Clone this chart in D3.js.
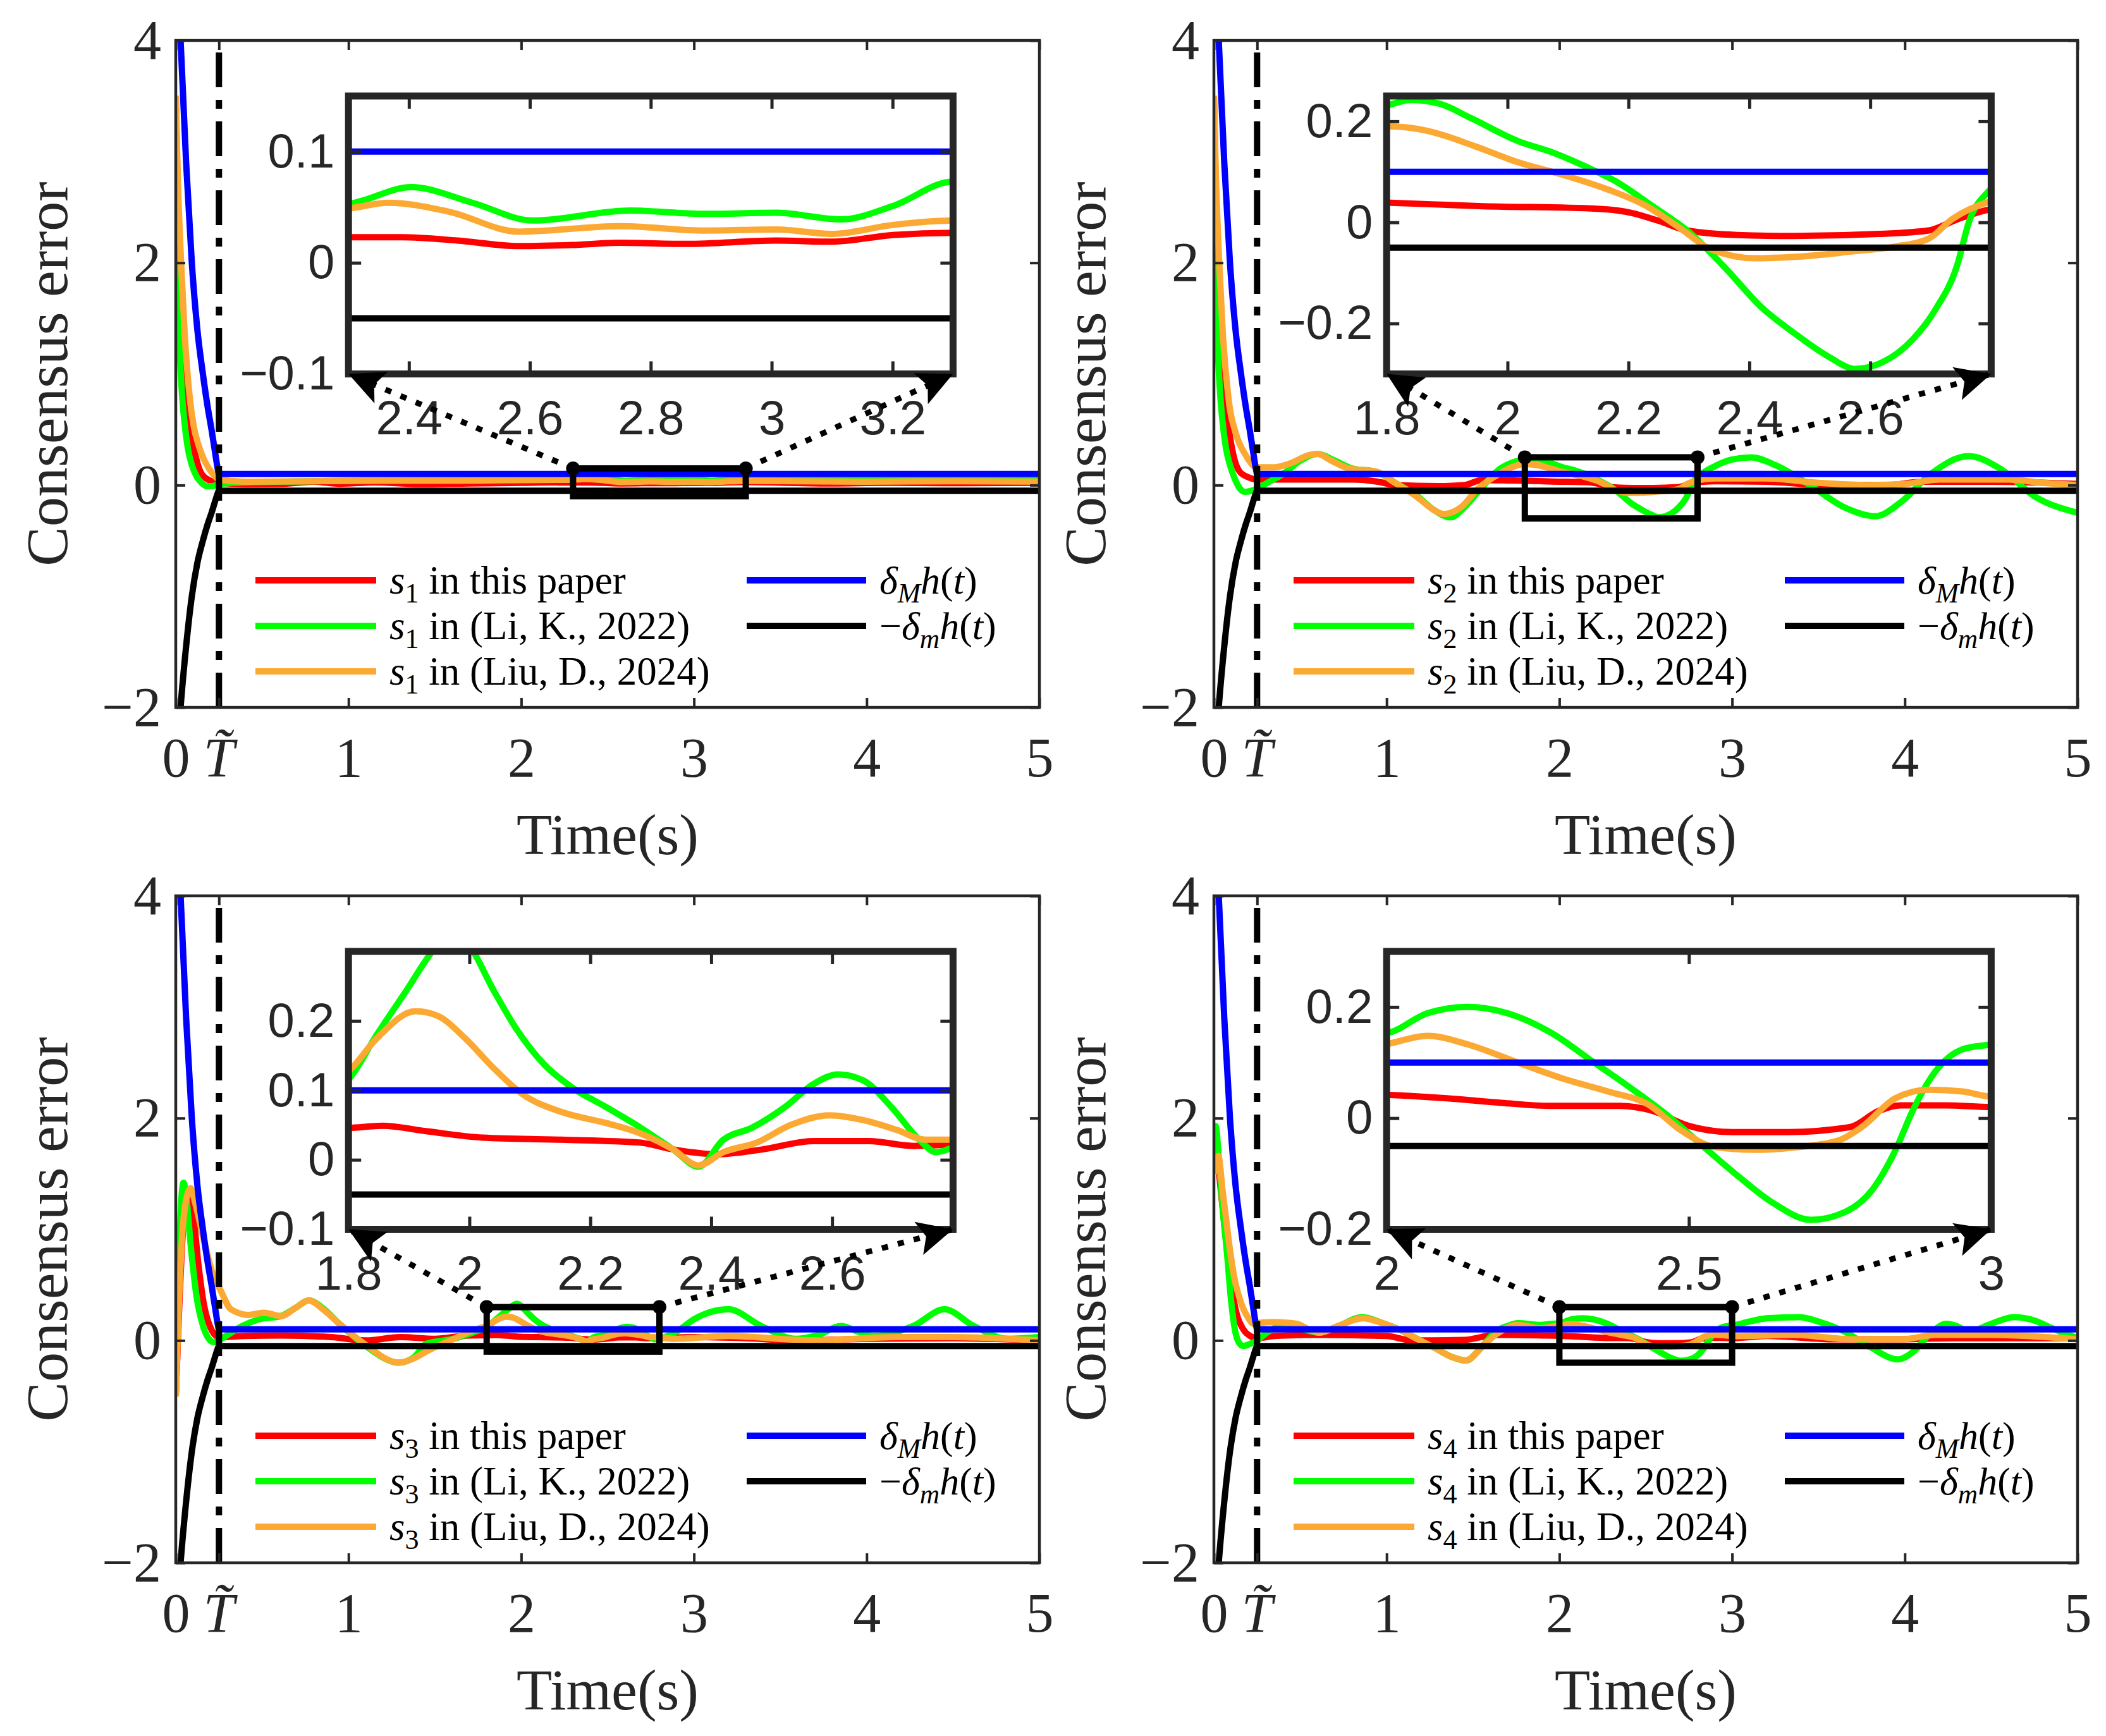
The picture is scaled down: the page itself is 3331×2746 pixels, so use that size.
<!DOCTYPE html>
<html lang="en">
<head>
<meta charset="UTF-8">
<title>Consensus error</title>
<script src="https://cdnjs.cloudflare.com/ajax/libs/d3/7.8.5/d3.min.js"></script>
<style>
  body { margin: 0; background: #fff; }
  svg { display: block; }
</style>
</head>
<body>
<svg id="chart" width="3331" height="2746"></svg>
<script>
// ---- data: [time, value] ----
const hUpper = [[0,5.3],[0.028,4.0],[0.06,2.9],[0.093,2.0],[0.125,1.4],[0.157,1.0],[0.185,0.7],[0.207,0.5],[0.23,0.27],[0.245,0.13],[0.25,0.1],[5,0.1]];
const hLower = [[0,-2.65],[0.028,-2.0],[0.06,-1.45],[0.093,-1.0],[0.125,-0.7],[0.157,-0.5],[0.185,-0.35],[0.207,-0.25],[0.23,-0.135],[0.245,-0.065],[0.25,-0.05],[5,-0.05]];

const s1Red = [[0,3.5],[0.015,2.3],[0.03,1.6],[0.05,1.05],[0.065,0.8],[0.085,0.52],[0.1,0.37],[0.125,0.2],[0.15,0.1],[0.2,0.04],[0.25,0.02],
  [0.4,0.01],[0.6,0.012],[0.8,0.03],[0.95,0.012],[1.15,0.025],[1.4,0.01],[1.7,0.015],[2.0,0.02],[2.2,0.024],
  [2.3,0.023],[2.389,0.023],[2.48,0.02],[2.582,0.015],[2.67,0.016],[2.75,0.018],[2.86,0.017],[3.007,0.02],[3.1,0.019],[3.2,0.025],[3.3,0.027],
  [3.5,0.022],[3.8,0.015],[4.1,0.02],[4.5,0.018],[5,0.02]];
const s1Green = [[0,3.5],[0.006,2.6],[0.012,1.9],[0.02,1.35],[0.035,0.85],[0.05,0.57],[0.07,0.33],[0.093,0.18],[0.12,0.08],[0.15,0.02],[0.18,-0.01],[0.21,-0.01],[0.25,0.01],
  [0.4,0.025],[0.8,0.035],[1.2,0.04],[1.6,0.045],[2.0,0.05],[2.2,0.05],
  [2.3,0.053],[2.404,0.068],[2.505,0.054],[2.605,0.038],[2.767,0.047],[2.89,0.044],[3.007,0.045],[3.115,0.039],[3.2,0.051],[3.3,0.073],
  [3.45,0.07],[3.7,0.055],[4.0,0.05],[4.5,0.055],[5,0.05]];
const s1Orange = [[0,3.5],[0.012,2.75],[0.031,2.0],[0.052,1.35],[0.083,0.76],[0.105,0.52],[0.13,0.37],[0.155,0.26],[0.18,0.18],[0.21,0.11],[0.25,0.05],
  [0.4,0.03],[0.8,0.035],[1.2,0.04],[1.6,0.04],[2.0,0.045],[2.2,0.047],
  [2.3,0.049],[2.366,0.054],[2.466,0.046],[2.582,0.028],[2.75,0.033],[2.89,0.029],[3.007,0.03],[3.1,0.026],[3.2,0.034],[3.3,0.038],
  [3.6,0.035],[4.0,0.03],[4.5,0.035],[5,0.03]];

const s2Red = [[0,3.5],[0.015,2.3],[0.03,1.6],[0.05,1.05],[0.065,0.8],[0.085,0.52],[0.1,0.37],[0.125,0.2],[0.15,0.12],[0.2,0.07],[0.25,0.05],
  [0.5,0.05],[0.8,0.05],[0.95,0.03],[1.05,0.0],[1.3,-0.01],[1.45,0.0],[1.55,0.045],[1.7,0.042],
  [1.8,0.039],[1.96,0.032],[2.148,0.027],[2.204,0.019],[2.25,0.003],[2.297,-0.016],[2.38,-0.025],[2.474,-0.027],[2.614,-0.023],[2.697,-0.016],[2.744,0.006],[2.8,0.026],
  [2.9,0.035],[3.2,0.03],[3.5,0.005],[3.9,0.0],[4.1,0.03],[4.5,0.03],[5,0.01]];
const s2Green = [[0,3.5],[0.006,2.6],[0.012,1.9],[0.02,1.35],[0.035,0.85],[0.05,0.57],[0.07,0.33],[0.093,0.18],[0.12,0.06],[0.15,-0.03],[0.18,-0.06],[0.22,-0.05],[0.25,-0.03],
  [0.32,0.03],[0.4,0.1],[0.5,0.22],[0.6,0.28],[0.7,0.22],[0.8,0.15],[0.94,0.12],[1.05,0.02],[1.17,-0.09],[1.27,-0.22],[1.37,-0.29],[1.45,-0.2],[1.53,-0.06],[1.66,0.15],[1.74,0.21],
  [1.8,0.231],[1.84,0.242],[1.887,0.235],[1.94,0.206],[2.017,0.161],[2.073,0.139],[2.13,0.11],[2.185,0.077],[2.24,0.032],[2.3,-0.019],[2.36,-0.09],[2.42,-0.168],[2.474,-0.219],[2.53,-0.265],[2.576,-0.29],[2.62,-0.277],[2.67,-0.232],[2.707,-0.174],[2.744,-0.084],[2.763,0.0],[2.8,0.068],
  [2.9,0.17],[3.0,0.23],[3.11,0.25],[3.25,0.18],[3.45,0.0],[3.65,-0.2],[3.83,-0.28],[3.98,-0.15],[4.15,0.1],[4.37,0.26],[4.55,0.15],[4.75,-0.1],[5,-0.25]];
const s2Orange = [[0,3.5],[0.012,2.75],[0.031,2.0],[0.052,1.35],[0.083,0.8],[0.13,0.45],[0.18,0.28],[0.25,0.16],[0.35,0.16],[0.45,0.2],[0.55,0.27],[0.6,0.28],[0.68,0.22],[0.78,0.15],[0.94,0.12],[1.05,0.02],[1.17,-0.1],[1.27,-0.22],[1.33,-0.26],[1.43,-0.2],[1.53,-0.03],[1.65,0.1],[1.74,0.17],
  [1.8,0.19],[1.868,0.181],[1.943,0.152],[2.017,0.119],[2.092,0.094],[2.166,0.065],[2.23,0.032],[2.287,-0.013],[2.334,-0.052],[2.41,-0.071],[2.48,-0.068],[2.567,-0.058],[2.641,-0.048],[2.697,-0.032],[2.735,0.006],[2.8,0.042],
  [2.9,0.06],[3.2,0.06],[3.5,0.02],[3.8,0.0],[4.0,0.01],[4.2,0.05],[4.6,0.05],[4.8,0.02],[5,0.0]];

const s3Red = [[0,-0.5],[0.02,0.3],[0.04,0.95],[0.06,1.25],[0.08,1.3],[0.1,1.15],[0.13,0.7],[0.16,0.35],[0.2,0.12],[0.25,0.03],
  [0.4,0.04],[0.61,0.045],[0.9,0.03],[1.1,0.0],[1.3,0.03],[1.5,0.015],[1.7,0.045],
  [1.8,0.046],[1.856,0.049],[1.93,0.041],[2.022,0.032],[2.152,0.029],[2.28,0.025],[2.337,0.015],[2.41,0.008],[2.485,0.015],[2.569,0.027],[2.661,0.027],[2.735,0.02],[2.8,0.022],
  [3.0,0.03],[3.3,0.02],[3.6,0.0],[4.0,0.015],[4.5,0.02],[5,0.0]];
const s3Green = [[0,-0.5],[0.015,0.5],[0.03,1.2],[0.045,1.42],[0.06,1.3],[0.09,0.8],[0.12,0.4],[0.16,0.12],[0.2,0.0],[0.22,-0.015],[0.25,0.0],
  [0.29,0.04],[0.385,0.13],[0.48,0.19],[0.61,0.22],[0.7,0.3],[0.77,0.36],[0.86,0.28],[0.94,0.16],[1.1,-0.05],[1.29,-0.2],[1.38,-0.15],[1.45,-0.03],[1.61,0.015],[1.7,0.06],[1.77,0.1],
  [1.8,0.116],[1.846,0.179],[1.893,0.24],[1.948,0.31],[1.975,0.33],[1.999,0.31],[2.04,0.244],[2.078,0.188],[2.124,0.137],[2.17,0.104],[2.226,0.076],[2.28,0.048],[2.337,0.015],[2.379,-0.01],[2.42,0.029],[2.467,0.046],[2.522,0.076],[2.569,0.109],[2.61,0.123],[2.652,0.114],[2.698,0.076],[2.744,0.029],[2.772,0.011],[2.8,0.018],
  [2.9,0.08],[3.0,0.19],[3.2,0.28],[3.39,0.13],[3.59,0.015],[3.72,0.05],[3.85,0.13],[3.95,0.08],[4.04,0.04],[4.27,0.13],[4.45,0.28],[4.62,0.13],[4.82,0.015],[5,0.03]];
const s3Orange = [[0,-0.5],[0.02,0.4],[0.04,1.0],[0.065,1.3],[0.087,1.37],[0.11,1.25],[0.16,0.92],[0.21,0.62],[0.26,0.45],[0.32,0.28],[0.42,0.23],[0.51,0.25],[0.61,0.22],[0.7,0.3],[0.77,0.36],[0.86,0.27],[0.94,0.16],[1.1,-0.04],[1.29,-0.2],[1.38,-0.16],[1.45,-0.1],[1.61,0.015],[1.72,0.09],[1.77,0.115],
  [1.8,0.128],[1.846,0.174],[1.911,0.214],[1.948,0.207],[1.994,0.174],[2.04,0.132],[2.087,0.095],[2.152,0.069],[2.226,0.053],[2.28,0.039],[2.337,0.015],[2.379,-0.008],[2.42,0.011],[2.476,0.025],[2.531,0.05],[2.596,0.064],[2.652,0.057],[2.707,0.043],[2.754,0.029],[2.8,0.029],
  [2.88,0.015],[3.2,0.04],[3.69,0.0],[4.17,0.03],[4.5,0.03],[5,0.0]];

const s4Red = [[0,1.55],[0.02,1.6],[0.04,1.35],[0.06,1.05],[0.08,0.75],[0.1,0.5],[0.13,0.25],[0.17,0.1],[0.21,0.04],[0.25,0.02],
  [0.35,0.04],[0.6,0.05],[1.0,0.04],[1.15,0.0],[1.45,0.005],[1.63,0.05],[1.9,0.045],
  [2.0,0.042],[2.096,0.036],[2.19,0.0275],[2.273,0.022],[2.385,0.022],[2.44,0.013],[2.497,-0.013],[2.571,-0.025],[2.664,-0.025],[2.767,-0.016],[2.814,0.013],[2.85,0.023],[2.925,0.023],[3.0,0.02],
  [3.2,0.04],[3.6,0.01],[3.9,0.01],[4.3,0.02],[4.6,0.02],[5,0.02]];
const s4Green = [[0,1.9],[0.01,1.93],[0.03,1.6],[0.05,1.2],[0.075,0.8],[0.1,0.35],[0.12,0.11],[0.145,-0.02],[0.17,-0.05],[0.21,-0.03],[0.25,0.0],
  [0.29,0.05],[0.36,0.12],[0.42,0.15],[0.5,0.11],[0.61,0.07],[0.72,0.13],[0.86,0.21],[0.97,0.16],[1.07,0.1],[1.17,0.02],[1.27,-0.06],[1.38,-0.15],[1.46,-0.18],[1.55,-0.06],[1.63,0.08],[1.7,0.13],[1.76,0.155],[1.89,0.14],[1.96,0.15],
  [2.0,0.153],[2.068,0.189],[2.133,0.2],[2.199,0.189],[2.273,0.153],[2.338,0.104],[2.404,0.054],[2.469,0.001],[2.525,-0.052],[2.581,-0.104],[2.637,-0.151],[2.702,-0.183],[2.758,-0.169],[2.804,-0.128],[2.842,-0.057],[2.87,0.013],[2.907,0.083],[2.953,0.124],[3.0,0.133],
  [3.1,0.17],[3.2,0.2],[3.39,0.21],[3.52,0.16],[3.65,0.08],[3.8,-0.06],[3.96,-0.17],[4.05,-0.1],[4.14,0.05],[4.24,0.15],[4.3,0.13],[4.37,0.08],[4.5,0.15],[4.63,0.21],[4.75,0.18],[4.83,0.125],[5,0.02]];
const s4Orange = [[0,1.5],[0.026,1.66],[0.05,1.35],[0.07,1.1],[0.09,0.85],[0.12,0.55],[0.157,0.34],[0.2,0.2],[0.23,0.15],[0.27,0.16],[0.35,0.165],[0.42,0.16],[0.48,0.15],[0.55,0.1],[0.61,0.07],[0.72,0.13],[0.86,0.2],[0.97,0.16],[1.07,0.1],[1.17,0.02],[1.27,-0.06],[1.38,-0.15],[1.46,-0.18],[1.55,-0.06],[1.63,0.05],[1.76,0.14],[1.89,0.11],[1.96,0.125],
  [2.0,0.133],[2.068,0.148],[2.133,0.133],[2.217,0.1],[2.292,0.071],[2.366,0.048],[2.432,0.025],[2.487,-0.022],[2.543,-0.052],[2.609,-0.057],[2.683,-0.052],[2.748,-0.04],[2.786,-0.016],[2.842,0.036],[2.897,0.051],[2.953,0.048],[3.0,0.039],
  [3.07,0.04],[3.36,0.05],[3.69,0.01],[3.98,0.01],[4.18,0.05],[4.5,0.05],[5,0.01]];

// zoomed windows and their ticks
const zoom1X = [2.3, 3.3], zoom1Y = [-0.1, 0.15];
const zoom2X = [1.8, 2.8], zoom2Y = [-0.3, 0.25];
const zoom3X = [1.8, 2.8], zoom3Y = [-0.1, 0.3];
const zoom4X = [2.0, 3.0], zoom4Y = [-0.2, 0.3];
const zoom1XTicks = [2.4, 2.6, 2.8, 3, 3.2], zoom1YTicks = [-0.1, 0, 0.1];
const zoom2XTicks = [1.8, 2, 2.2, 2.4, 2.6], zoom2YTicks = [-0.2, 0, 0.2];
const zoom3XTicks = [1.8, 2, 2.2, 2.4, 2.6], zoom3YTicks = [-0.1, 0, 0.1, 0.2];
const zoom4XTicks = [2, 2.5, 3], zoom4YTicks = [-0.2, 0, 0.2];

const mainXTicks = [0, 0.25, 1, 2, 3, 4, 5];
const mainYTicks = [-2, 0, 2, 4];
const tTilde = 0.25;
const seriesLabels = ["in this paper", "in (Li, K., 2022)", "in (Liu, D., 2024)"];

// ---- layout ----
const W = 3331, H = 2746;
const panelW = 1366, panelH = 1055;
const insetSpanX = [1, 4.5], insetSpanY = [1, 3.5]; // inset box in main-axis units
const colors = { red: "#ff0000", green: "#00ff00", orange: "#fca934", blue: "#0000ff", black: "#000000" };
const axisColor = "#262626";
const serif = "'Liberation Serif', 'Times New Roman', serif";
const sans = "'Liberation Sans', Arial, sans-serif";
const lineW = 10;

const panels = [
  { n: 1, left: 278,  top: 64,   red: s1Red, green: s1Green, orange: s1Orange, zx: zoom1X, zy: zoom1Y, zxt: zoom1XTicks, zyt: zoom1YTicks },
  { n: 2, left: 1920, top: 64,   red: s2Red, green: s2Green, orange: s2Orange, zx: zoom2X, zy: zoom2Y, zxt: zoom2XTicks, zyt: zoom2YTicks },
  { n: 3, left: 278,  top: 1417, red: s3Red, green: s3Green, orange: s3Orange, zx: zoom3X, zy: zoom3Y, zxt: zoom3XTicks, zyt: zoom3YTicks },
  { n: 4, left: 1920, top: 1417, red: s4Red, green: s4Green, orange: s4Orange, zx: zoom4X, zy: zoom4Y, zxt: zoom4XTicks, zyt: zoom4YTicks }
];

const svg = d3.select("#chart");
svg.append("rect").attr("width", W).attr("height", H).attr("fill", "#fff");
const defs = svg.append("defs");

const fmtNum = d => String(d).replace("-", "\u2212");

// write a run of text pieces (italic / subscript) into one <text>
function richText(g, x, y, parts, size, anchor) {
  const t = g.append("text").attr("x", x).attr("y", y)
    .attr("font-family", serif).attr("font-size", size).attr("fill", "#000")
    .attr("text-anchor", anchor || "start");
  let shift = 0;
  parts.forEach(p => {
    const want = p.sub ? size * 0.22 : 0;
    const ts = t.append("tspan").text(p.t).attr("dy", want - shift);
    shift = want;
    if (p.i) ts.attr("font-style", "italic");
    if (p.sub) ts.attr("font-size", size * 0.7);
  });
  return t;
}

function arrowHead(g, from, to) {
  const dx = to[0] - from[0], dy = to[1] - from[1], L = Math.hypot(dx, dy);
  const ux = dx / L, uy = dy / L, px = -uy, py = ux;
  const len = 56, hw = 27, notch = 12;
  const bx = to[0] - ux * len, by = to[1] - uy * len;
  const pts = [to, [bx + px * hw, by + py * hw], [to[0] - ux * (len - notch), to[1] - uy * (len - notch)], [bx - px * hw, by - py * hw]];
  g.append("path").attr("d", "M" + pts.map(p => p.join(",")).join("L") + "Z").attr("fill", "#000");
}

function drawSeries(g, x, y, p, width) {
  const line = d3.line().x(d => x(d[0])).y(d => y(d[1])).curve(d3.curveMonotoneX);
  [[p.red, colors.red], [p.green, colors.green], [p.orange, colors.orange], [hUpper, colors.blue], [hLower, colors.black]]
    .forEach(([data, c]) => {
      g.append("path").datum(data).attr("d", line)
        .attr("fill", "none").attr("stroke", c).attr("stroke-width", width)
        .attr("stroke-linejoin", "round");
    });
}

function styleAxis(sel, font, size, tickW) {
  sel.select(".domain").remove();
  sel.selectAll(".tick line").attr("stroke", axisColor).attr("stroke-width", tickW);
  sel.selectAll(".tick text").attr("font-family", font).attr("font-size", size).attr("fill", axisColor);
}

panels.forEach(p => {
  const g = svg.append("g");
  const x = d3.scaleLinear().domain([0, 5]).range([p.left, p.left + panelW]);
  const y = d3.scaleLinear().domain([-2, 4]).range([p.top + panelH, p.top]);
  const bottom = p.top + panelH, right = p.left + panelW;

  // main curves
  const clipId = "clip" + p.n;
  defs.append("clipPath").attr("id", clipId).append("rect")
    .attr("x", p.left).attr("y", p.top).attr("width", panelW).attr("height", panelH);
  const plot = g.append("g").attr("clip-path", `url(#${clipId})`);
  drawSeries(plot, x, y, p, lineW);

  // prescribed time marker
  plot.append("line").attr("x1", x(tTilde)).attr("x2", x(tTilde)).attr("y1", bottom).attr("y2", p.top)
    .attr("stroke", "#000").attr("stroke-width", 10).attr("stroke-dasharray", "55,20,14,20");

  // axes
  const xAx = g.append("g").attr("transform", `translate(0,${bottom})`)
    .call(d3.axisBottom(x).tickValues(mainXTicks).tickSize(-15).tickSizeOuter(0).tickPadding(47).tickFormat(fmtNum));
  styleAxis(xAx, serif, 88, 4);
  xAx.selectAll(".tick text").filter(d => d === tTilde).remove();
  g.append("g").attr("transform", `translate(0,${p.top})`)
    .call(d3.axisTop(x).tickValues(mainXTicks).tickSize(-15).tickSizeOuter(0).tickFormat(""))
    .call(s => styleAxis(s, serif, 88, 4));
  const yAx = g.append("g").attr("transform", `translate(${p.left},0)`)
    .call(d3.axisLeft(y).tickValues(mainYTicks).tickSize(-15).tickSizeOuter(0).tickPadding(23).tickFormat(fmtNum));
  styleAxis(yAx, serif, 88, 4);
  g.append("g").attr("transform", `translate(${right},0)`)
    .call(d3.axisRight(y).tickValues(mainYTicks).tickSize(-15).tickSizeOuter(0).tickFormat(""))
    .call(s => styleAxis(s, serif, 88, 4));
  g.append("rect").attr("x", p.left).attr("y", p.top).attr("width", panelW).attr("height", panelH)
    .attr("fill", "none").attr("stroke", axisColor).attr("stroke-width", 4.5);

  // T tilde label: italic T with a combining tilde
  g.append("text").attr("x", x(tTilde)).attr("y", bottom + 109).attr("text-anchor", "middle")
    .attr("font-family", serif).attr("font-size", 88).attr("font-style", "italic")
    .attr("fill", axisColor).text("T\u0303");

  // axis titles
  g.append("text").attr("transform", `translate(${p.left - 204},${p.top + panelH / 2}) rotate(-90)`)
    .attr("text-anchor", "middle").attr("dominant-baseline", "central")
    .attr("font-family", serif).attr("font-size", 94).attr("fill", axisColor).text("Consensus error");
  g.append("text").attr("x", p.left + panelW / 2).attr("y", bottom + 232).attr("text-anchor", "middle")
    .attr("font-family", serif).attr("font-size", 92).attr("fill", axisColor).text("Time(s)");

  // legend
  const rows = [p.top + 854, p.top + 926, p.top + 998];
  [colors.red, colors.green, colors.orange].forEach((c, i) => {
    g.append("line").attr("x1", p.left + 126).attr("x2", p.left + 317).attr("y1", rows[i]).attr("y2", rows[i])
      .attr("stroke", c).attr("stroke-width", lineW);
    richText(g, p.left + 338, rows[i] + 21,
      [{ t: "s", i: true }, { t: String(p.n), sub: true }, { t: " " + seriesLabels[i] }], 63);
  });
  const bounds = [
    [{ t: "\u03B4", i: true }, { t: "M", i: true, sub: true }, { t: "h", i: true }, { t: "(" }, { t: "t", i: true }, { t: ")" }],
    [{ t: "\u2212" }, { t: "\u03B4", i: true }, { t: "m", i: true, sub: true }, { t: "h", i: true }, { t: "(" }, { t: "t", i: true }, { t: ")" }]
  ];
  [colors.blue, colors.black].forEach((c, i) => {
    g.append("line").attr("x1", p.left + 903).attr("x2", p.left + 1092).attr("y1", rows[i]).attr("y2", rows[i])
      .attr("stroke", c).attr("stroke-width", lineW);
    richText(g, p.left + 1113, rows[i] + 21, bounds[i], 62);
  });

  // zoom window in the main axes
  const rx0 = x(p.zx[0]), rx1 = x(p.zx[1]), ry0 = y(p.zy[1]), ry1 = y(p.zy[0]);
  g.append("rect").attr("x", rx0).attr("y", ry0).attr("width", rx1 - rx0).attr("height", ry1 - ry0)
    .attr("fill", "none").attr("stroke", "#000").attr("stroke-width", 10);

  // inset axes
  const ix0 = x(insetSpanX[0]), ix1 = x(insetSpanX[1]), iy0 = y(insetSpanY[1]), iy1 = y(insetSpanY[0]);
  const ix = d3.scaleLinear().domain(p.zx).range([ix0, ix1]);
  const iy = d3.scaleLinear().domain(p.zy).range([iy1, iy0]);
  const ins = g.append("g");
  ins.append("rect").attr("x", ix0).attr("y", iy0).attr("width", ix1 - ix0).attr("height", iy1 - iy0).attr("fill", "#fff");
  const iclip = "iclip" + p.n;
  defs.append("clipPath").attr("id", iclip).append("rect")
    .attr("x", ix0).attr("y", iy0).attr("width", ix1 - ix0).attr("height", iy1 - iy0);
  drawSeries(ins.append("g").attr("clip-path", `url(#${iclip})`), ix, iy, p, lineW);

  const ixAx = ins.append("g").attr("transform", `translate(0,${iy1})`)
    .call(d3.axisBottom(ix).tickValues(p.zxt).tickSize(-20).tickSizeOuter(0).tickPadding(42).tickFormat(fmtNum));
  styleAxis(ixAx, sans, 76, 5);
  ins.append("g").attr("transform", `translate(0,${iy0})`)
    .call(d3.axisTop(ix).tickValues(p.zxt).tickSize(-20).tickSizeOuter(0).tickFormat(""))
    .call(s => styleAxis(s, sans, 76, 5));
  const iyAx = ins.append("g").attr("transform", `translate(${ix0},0)`)
    .call(d3.axisLeft(iy).tickValues(p.zyt).tickSize(-20).tickSizeOuter(0).tickPadding(22).tickFormat(fmtNum));
  styleAxis(iyAx, sans, 76, 5);
  ins.append("g").attr("transform", `translate(${ix1},0)`)
    .call(d3.axisRight(iy).tickValues(p.zyt).tickSize(-20).tickSizeOuter(0).tickFormat(""))
    .call(s => styleAxis(s, sans, 76, 5));
  ins.append("rect").attr("x", ix0).attr("y", iy0).attr("width", ix1 - ix0).attr("height", iy1 - iy0)
    .attr("fill", "none").attr("stroke", axisColor).attr("stroke-width", 11);

  // dotted connectors with arrows
  const links = [[[rx0, ry0], [ix0, iy1]], [[rx1, ry0], [ix1, iy1]]];
  links.forEach(([a, b]) => {
    g.append("line").attr("x1", a[0]).attr("y1", a[1]).attr("x2", b[0]).attr("y2", b[1])
      .attr("stroke", "#000").attr("stroke-width", 9).attr("stroke-dasharray", "10,16");
    g.append("circle").attr("cx", a[0]).attr("cy", a[1]).attr("r", 11).attr("fill", "#000");
    arrowHead(g, a, b);
  });
});
</script>
</body>
</html>
